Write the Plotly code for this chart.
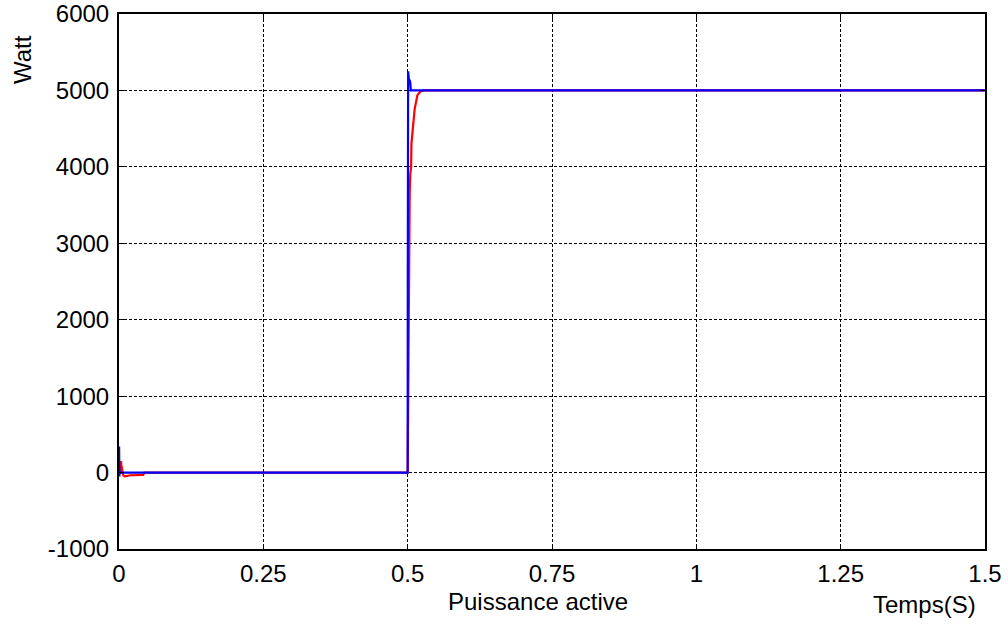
import plotly.graph_objects as go

# Red trace (reference / slower response)
red_t = [0, 0.003, 0.0035, 0.004, 0.0075, 0.01, 0.02, 0.03, 0.042, 0.044, 0.4995,
         0.5, 0.5008, 0.5012, 0.5018, 0.5025, 0.5035, 0.5045, 0.506, 0.5065, 0.5087,
         0.51, 0.512, 0.5145, 0.517, 0.522, 0.5277, 1.5]
red_v = [0, 0, 150, 100, -40, -50, -35, -30, -30, 0, 0,
         0, 800, 1500, 2500, 3200, 3660, 3900, 4000, 4300, 4530,
         4620, 4750, 4850, 4940, 4985, 5000, 5000]

# Blue trace (fast response)
blue_t = [0, 0.0002, 0.0006, 0.0012, 0.002, 0.4995, 0.5, 0.5002, 0.5008, 0.501,
          0.502, 0.5035, 0.5045, 0.5055, 1.5]
blue_v = [0, 340, -50, 20, 0, 0, 0, 2500, 5250, 5180,
          5150, 5130, 5100, 5000, 5000]

x_ticks = [0, 0.25, 0.5, 0.75, 1, 1.25, 1.5]
x_tick_labels = ["0", "0.25", "0.5", "0.75", "1", "1.25", "1.5"]
y_ticks = [-1000, 0, 1000, 2000, 3000, 4000, 5000, 6000]
y_tick_labels = ["-1000", "0", "1000", "2000", "3000", "4000", "5000", "6000"]

FONT = "Liberation Sans, Arial, sans-serif"

fig = go.Figure()
fig.add_trace(go.Scatter(x=red_t, y=red_v, mode="lines",
                         line=dict(color="#ff0000", width=2.2), showlegend=False))
fig.add_trace(go.Scatter(x=blue_t, y=blue_v, mode="lines",
                         line=dict(color="#0000ff", width=2.2), showlegend=False))

axis_common = dict(
    showline=True, linecolor="black", linewidth=2, mirror="ticks",
    ticks="inside", ticklen=5, tickcolor="black", tickwidth=1,
    showgrid=True, gridcolor="black", gridwidth=1, griddash="3px,2px",
    zeroline=False, automargin=False, ticklabeloverflow="allow",
    tickfont=dict(family=FONT, size=24, color="black"),
)

fig.update_xaxes(range=[0, 1.5], tickvals=x_ticks, ticktext=x_tick_labels,
                 ticklabelstandoff=2, **axis_common)
fig.update_yaxes(range=[-1000, 6000], tickvals=y_ticks, ticktext=y_tick_labels,
                 ticklabelstandoff=3, **axis_common)

W, H = 1008, 626
L, R, T, B = 119, 23, 14, 77
PW, PH = W - L - R, H - T - B
X0, Y1 = L, H - B  # plot area left / bottom in page pixels

fig.update_layout(
    width=W, height=H,
    margin=dict(l=L, r=R, t=T, b=B, autoexpand=False),
    paper_bgcolor="white", plot_bgcolor="white",
    font=dict(family=FONT, size=24, color="black"),
    annotations=[
        dict(text="Puissance active", xref="paper", yref="paper",
             x=(538 - X0) / PW, y=-(601 - Y1) / PH,
             xanchor="center", yanchor="middle", showarrow=False,
             font=dict(family=FONT, size=24, color="black")),
        dict(text="Temps(S)", xref="paper", yref="paper",
             x=(924 - X0) / PW, y=-(604 - Y1) / PH,
             xanchor="center", yanchor="middle", showarrow=False,
             font=dict(family=FONT, size=24, color="black")),
        dict(text="Watt", xref="paper", yref="paper",
             x=-(X0 - 22) / PW, y=(Y1 - 60) / PH,
             xanchor="center", yanchor="middle", showarrow=False, textangle=-90,
             font=dict(family=FONT, size=24, color="black")),
    ],
)

fig.write_html("out.html",
               config={"displayModeBar": False},
               post_script="document.body.style.margin='0';document.body.style.overflow='hidden';")
